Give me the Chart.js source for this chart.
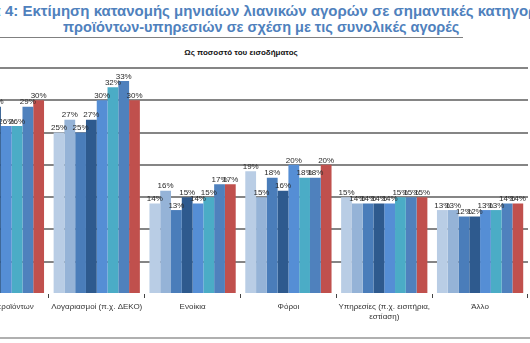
<!DOCTYPE html>
<html>
<head>
<meta charset="utf-8">
<script src="https://cdn.jsdelivr.net/npm/chart.js@4.4.1/dist/chart.umd.min.js"></script>
<style>
  html, body { margin: 0; padding: 0; background: #fff; }
  body { width: 530px; height: 343px; overflow: hidden; position: relative; font-family: "Liberation Sans", Arial, sans-serif; }
  .head { position: absolute; white-space: pre; font-weight: bold; font-size: 14.5px; color: #4F81BD; }
  #rule { position: absolute; left: 0; top: 37px; width: 463px; height: 0; border-top: 1.5px solid #808080; }
  #sub { position: absolute; left: 141px; width: 200px; top: 48px; text-align: center; font-weight: bold; font-size: 8px; color: #111; }
  #foot { position: absolute; left: 0; top: 337px; width: 530px; border-top: 2px solid #b0b0b0; }
  #wrap { position: absolute; left: -87px; top: 60px; }
</style>
</head>
<body>
<div class="head" style="left:5px;top:2px;font-size:15px"><span style="position:absolute;right:100%">Διάγραμμα </span>4: Εκτίμηση κατανομής μηνιαίων λιανικών αγορών σε σημαντικές κατηγορίες</div>
<div class="head" style="left:63px;top:19px">προϊόντων-υπηρεσιών σε σχέση με τις συνολικές αγορές</div>
<div id="rule"></div>
<div id="sub">Ως ποσοστό του εισοδήματος</div>
<div id="wrap"><canvas id="myChart" width="617" height="274"></canvas></div>
<div id="foot"></div>
<script>
const categories = [
  "Αγορές προϊόντων",
  "Λογαριασμοί (π.χ. ΔΕΚΟ)",
  "Ενοίκια",
  "Φόροι",
  ["Υπηρεσίες (π.χ. εισιτήρια,", "εστίαση)"],
  "Άλλο"
];
const seriesNames = ["Έρευνα 1", "Έρευνα 2", "Έρευνα 3", "Έρευνα 4", "Έρευνα 5", "Έρευνα 6", "Έρευνα 7", "Έρευνα 8"];
const seriesColors = ["#B9CDE5", "#95B3D7", "#4A7DBA", "#2E5A8E", "#558ED5", "#4BACC6", "#4F81BD", "#C0504D"];
const s1 = [31, 25, 14, 19, 15, 13];
const s2 = [30, 27, 16, 15, 14, 13];
const s3 = [29, 25, 13, 18, 14, 12];
const s4 = [29, 27, 15, 16, 14, 12];
const s5 = [26, 30, 14, 20, 14, 13];
const s6 = [26, 32, 15, 18, 15, 13];
const s7 = [29, 33, 17, 18, 15, 14];
const s8 = [30, 30, 17, 20, 15, 14];
const seriesValues = [s1, s2, s3, s4, s5, s6, s7, s8];
const yTicks = [0, 5, 10, 15, 20, 25, 30, 35];

const valueLabels = {
  id: 'valueLabels',
  afterDatasetsDraw(chart) {
    const ctx = chart.ctx;
    ctx.save();
    ctx.font = '8px "Liberation Sans", Arial, sans-serif';
    ctx.fillStyle = '#2a2a2a';
    ctx.textAlign = 'center';
    ctx.textBaseline = 'bottom';
    chart.data.datasets.forEach((ds, i) => {
      chart.getDatasetMeta(i).data.forEach((bar, j) => {
        ctx.fillText(ds.data[j] + '%', bar.x, bar.y - 0.5);
      });
    });
    ctx.restore();
  }
};

var chartContext = document.getElementById('myChart').getContext('2d');
var myChart = new Chart(chartContext, {
  type: 'bar',
  data: {
    labels: categories,
    datasets: seriesValues.map((vals, i) => ({
      label: seriesNames[i],
      data: vals,
      backgroundColor: seriesColors[i],
      borderWidth: 0,
      categoryPercentage: 0.9,
      barPercentage: 1.0
    }))
  },
  options: {
    responsive: false,
    animation: false,
    devicePixelRatio: 1,
    layout: { padding: { left: 0, right: 2, top: 8, bottom: 0 } },
    plugins: {
      legend: { display: false },
      title: { display: false },
      tooltip: { enabled: false }
    },
    scales: {
      x: {
        border: { display: false },
        grid: { display: true, drawOnChartArea: false, drawTicks: true, tickLength: 4, color: '#444', offset: true },
        ticks: {
          color: '#333',
          padding: 3,
          maxRotation: 0,
          autoSkip: false,
          font: { family: '"Liberation Sans", Arial, sans-serif', size: 8, lineHeight: 1.35 }
        },
        afterFit: (s) => { s.height = 40; }
      },
      y: {
        min: 0,
        max: 35,
        border: { display: false },
        afterBuildTicks: (s) => { s.ticks = yTicks.map(v => ({ value: v })); },
        ticks: { display: false },
        grid: {
          drawTicks: false,
          lineWidth: 2,
          color: (c) => (c.tick && c.tick.value === 0) ? 'rgba(0,0,0,0)' : '#858585'
        },
        afterFit: (s) => { s.width = 40; }
      }
    }
  },
  plugins: [valueLabels]
});
</script>
</body>
</html>
